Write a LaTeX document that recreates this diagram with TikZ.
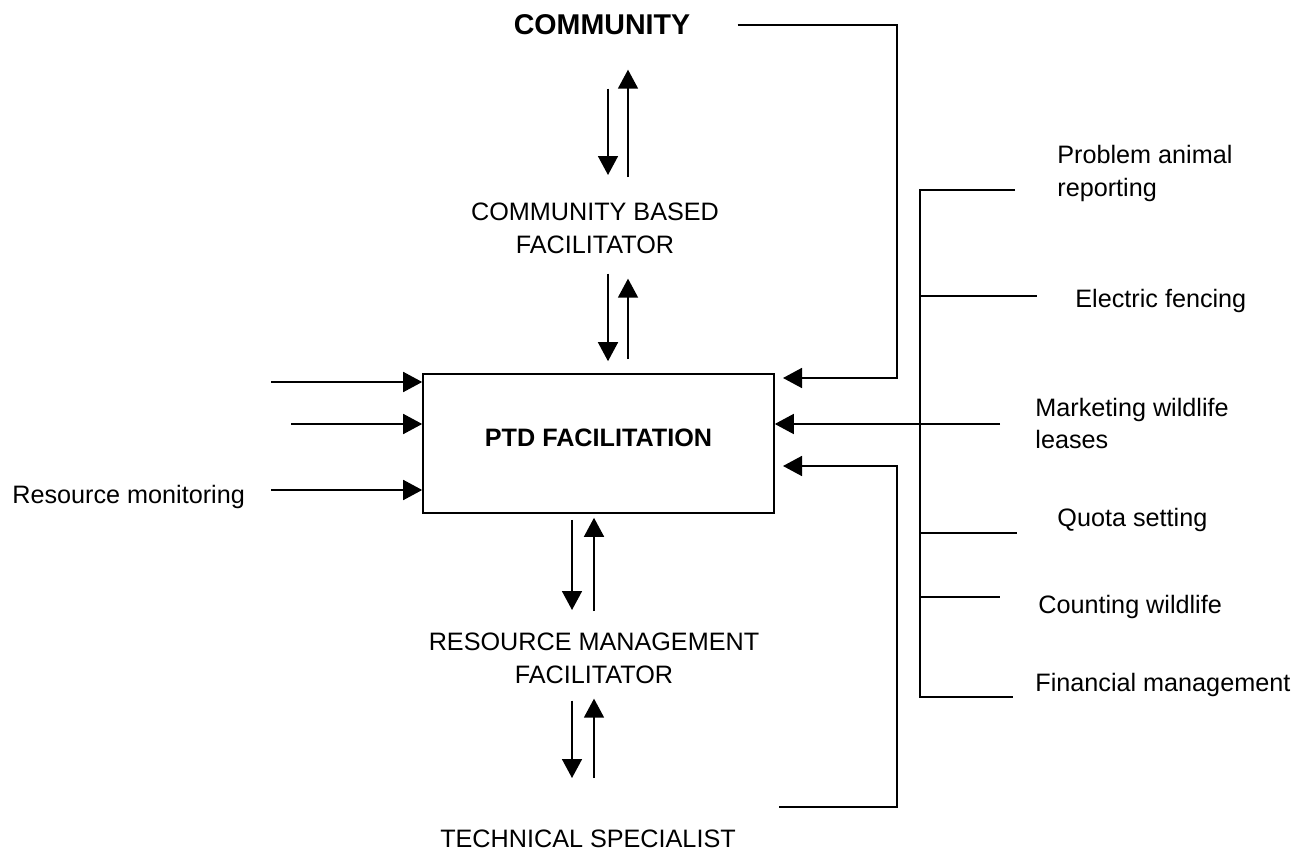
\documentclass[tikz,border=0pt]{standalone}
\usepackage{fontspec}
\setmainfont{Liberation Sans}
\usetikzlibrary{arrows.meta,positioning}

\tikzset{
  flow/.style={-{Triangle[length=9.5pt,width=10pt]}, line width=0.8pt},
  rule/.style={line width=0.8pt},
  lbl/.style={inner sep=0pt, font=\fontsize{12.6}{16.5}\selectfont, align=center, anchor=base},
  side/.style={inner sep=0pt, font=\fontsize{12.6}{16.5}\selectfont, align=left, anchor=base west},
}

\begin{document}
\begin{tikzpicture}[x=0.5pt, y=-0.5pt]
    \useasboundingbox (0,0) rectangle (1306,855);

    % Main column
    \node[lbl, font=\fontsize{14.3}{17}\selectfont\bfseries] (comm) at (602,35) {COMMUNITY};
    \node[lbl] (cbf) at (595,254) {COMMUNITY BASED\\FACILITATOR};
    \node[draw, rule, minimum width=175.5pt, minimum height=69.5pt, text height=9pt, text depth=6pt,
          font=\fontsize{12.6}{16.5}\selectfont\bfseries] (ptd) at (598.5,443.5) {PTD FACILITATION};
    \node[lbl] (rmf) at (594,683) {RESOURCE MANAGEMENT\\FACILITATOR};
    \node[lbl] (tech) at (588,847) {TECHNICAL SPECIALIST};

    % Two-way arrows down the column
    \draw[flow, shorten <=26.5pt, shorten >=14pt] ([xshift=3pt]comm.south) -- ([xshift=6.5pt]cbf.north);
    \draw[flow, shorten <=13pt, shorten >=17pt] ([xshift=16.5pt]cbf.north) -- ([xshift=13pt]comm.south);
    \draw[flow, shorten <=9.5pt, shorten >=6pt] ([xshift=6.5pt]cbf.south) -- ([xshift=4.75pt]ptd.north);
    \draw[flow, shorten <=7pt, shorten >=12pt] ([xshift=14.75pt]ptd.north) -- ([xshift=16.5pt]cbf.south);
    \draw[flow, shorten <=3pt, shorten >=11pt] ([xshift=-13.25pt]ptd.south) -- ([xshift=-11pt]rmf.north);
    \draw[flow, shorten <=10.5pt, shorten >=2pt] (rmf.north) -- ([xshift=-2.25pt]ptd.south);
    \draw[flow, shorten <=8.5pt, shorten >=25.5pt] ([xshift=-11pt]rmf.south) -- ([xshift=-8pt]tech.north);
    \draw[flow, shorten <=25.5pt, shorten >=7.5pt] ([xshift=3pt]tech.north) -- (rmf.south);

    % Inputs from the left
    \node[side] (resmon) at (12,503) {Resource monitoring};
    \coordinate (in1) at (271,382);
    \coordinate (in2) at (291,424);
    \coordinate (in3) at (271,490);
    \foreach \c in {in1,in2,in3}
        \draw[flow] (\c) -- (\c -| ptd.west);

    % Feedback lines on the right
    \coordinate (rail) at (897,0);
    \coordinate (cin) at (783,378);
    \coordinate (tin) at (783,466);
    \draw[flow] ([xshift=23.5pt]comm.east) -| (rail |- cin) -- (cin);
    \draw[flow] ([xshift=21.5pt,yshift=11pt]tech.north east) -| (rail |- tin) -- (tin);

    % Activities
    \node[side] (prob) at (1057,197) {Problem animal\\reporting};
    \node[side] (elec) at (1075,308) {Electric fencing};
    \node[side] (mark) at (1035,449) {Marketing wildlife\\leases};
    \node[side] (quota) at (1057,526) {Quota setting};
    \node[side] (count) at (1038,613) {Counting wildlife};
    \node[side] (fin) at (1035,691) {Financial management};

    \coordinate (brk) at (920,0);
    \coordinate (b1) at (1015,190);
    \coordinate (b2) at (1037,296);
    \coordinate (b3) at (1000,424);
    \coordinate (b4) at (1017,533);
    \coordinate (b5) at (1000,597);
    \coordinate (b6) at (1013,697);
    \draw[rule] (b1) -- (b1 -| brk) -- (b6 -| brk) -- (b6);
    \foreach \b in {b2,b4,b5}
        \draw[rule] (\b -| brk) -- (\b);
    \draw[flow] (b3) -- (b3 -| ptd.east);

\end{tikzpicture}
\end{document}
